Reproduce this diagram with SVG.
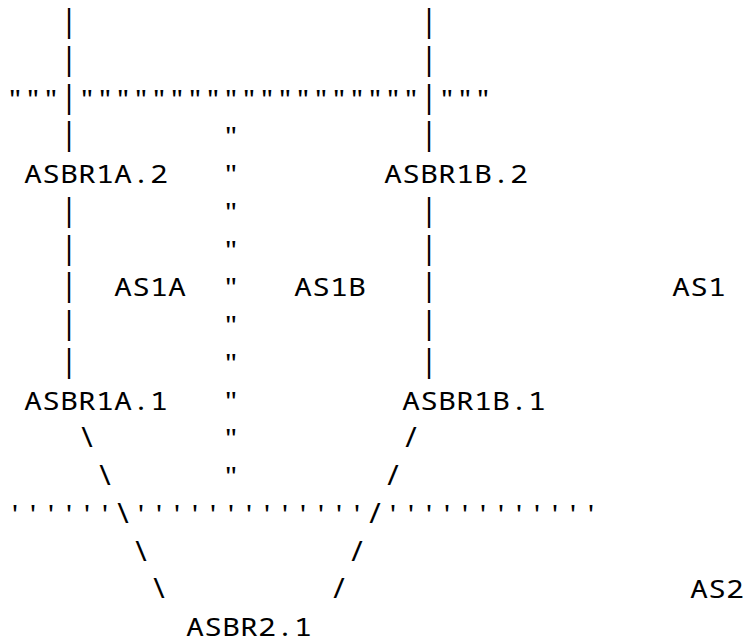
<svg xmlns="http://www.w3.org/2000/svg" width="745" height="643" viewBox="0 0 745 643">
<style>
text{font-family:"Noto Sans Mono","DejaVu Sans Mono","Liberation Mono",monospace;font-size:25px;fill:#000;white-space:pre}
text.p{font-size:30px}
text.s{font-size:27px}
</style>
<rect width="745" height="643" fill="#fff"/>
<g id="boundaries">
<text x="6" y="107.5" textLength="54" lengthAdjust="spacingAndGlyphs">"""</text>
<text x="78" y="107.5" textLength="342" lengthAdjust="spacingAndGlyphs">"""""""""""""""""""</text>
<text x="438" y="107.5" textLength="54" lengthAdjust="spacingAndGlyphs">"""</text>
<text x="222" y="145.25" textLength="18" lengthAdjust="spacingAndGlyphs">"</text>
<text x="222" y="183" textLength="18" lengthAdjust="spacingAndGlyphs">"</text>
<text x="222" y="220.75" textLength="18" lengthAdjust="spacingAndGlyphs">"</text>
<text x="222" y="258.5" textLength="18" lengthAdjust="spacingAndGlyphs">"</text>
<text x="222" y="296.25" textLength="18" lengthAdjust="spacingAndGlyphs">"</text>
<text x="222" y="334" textLength="18" lengthAdjust="spacingAndGlyphs">"</text>
<text x="222" y="371.75" textLength="18" lengthAdjust="spacingAndGlyphs">"</text>
<text x="222" y="409.5" textLength="18" lengthAdjust="spacingAndGlyphs">"</text>
<text x="222" y="447.25" textLength="18" lengthAdjust="spacingAndGlyphs">"</text>
<text x="222" y="485" textLength="18" lengthAdjust="spacingAndGlyphs">"</text>
<text x="6" y="522.75" textLength="108" lengthAdjust="spacingAndGlyphs">''''''</text>
<text x="132" y="522.75" textLength="234" lengthAdjust="spacingAndGlyphs">'''''''''''''</text>
<text x="384" y="522.75" textLength="216" lengthAdjust="spacingAndGlyphs">''''''''''''</text>
</g>
<g id="area-labels">
<text id="as1a" x="114" y="296.25" textLength="72" lengthAdjust="spacingAndGlyphs">AS1A</text>
<text id="as1b" x="294" y="296.25" textLength="72" lengthAdjust="spacingAndGlyphs">AS1B</text>
<text id="as1" x="672" y="296.25" textLength="54" lengthAdjust="spacingAndGlyphs">AS1</text>
<text id="as2" x="690" y="598.25" textLength="54" lengthAdjust="spacingAndGlyphs">AS2</text>
</g>
<g id="ASBR1A.2"><text x="24" y="183" textLength="144" lengthAdjust="spacingAndGlyphs">ASBR1A.2</text></g>
<g id="ASBR1B.2"><text x="384" y="183" textLength="144" lengthAdjust="spacingAndGlyphs">ASBR1B.2</text></g>
<g id="ASBR1A.1"><text x="24" y="409.5" textLength="144" lengthAdjust="spacingAndGlyphs">ASBR1A.1</text></g>
<g id="ASBR1B.1"><text x="402" y="409.5" textLength="144" lengthAdjust="spacingAndGlyphs">ASBR1B.1</text></g>
<g id="ASBR2.1"><text x="186" y="636" textLength="126" lengthAdjust="spacingAndGlyphs">ASBR2.1</text></g>
<g id="connectors">
<text class="p" x="60" y="32" textLength="18" lengthAdjust="spacingAndGlyphs">|</text>
<text class="p" x="60" y="69.75" textLength="18" lengthAdjust="spacingAndGlyphs">|</text>
<text class="p" x="60" y="107.5" textLength="18" lengthAdjust="spacingAndGlyphs">|</text>
<text class="p" x="60" y="145.25" textLength="18" lengthAdjust="spacingAndGlyphs">|</text>
<text class="p" x="60" y="220.75" textLength="18" lengthAdjust="spacingAndGlyphs">|</text>
<text class="p" x="60" y="258.5" textLength="18" lengthAdjust="spacingAndGlyphs">|</text>
<text class="p" x="60" y="296.25" textLength="18" lengthAdjust="spacingAndGlyphs">|</text>
<text class="p" x="60" y="334" textLength="18" lengthAdjust="spacingAndGlyphs">|</text>
<text class="p" x="60" y="371.75" textLength="18" lengthAdjust="spacingAndGlyphs">|</text>
<text class="p" x="420" y="32" textLength="18" lengthAdjust="spacingAndGlyphs">|</text>
<text class="p" x="420" y="69.75" textLength="18" lengthAdjust="spacingAndGlyphs">|</text>
<text class="p" x="420" y="107.5" textLength="18" lengthAdjust="spacingAndGlyphs">|</text>
<text class="p" x="420" y="145.25" textLength="18" lengthAdjust="spacingAndGlyphs">|</text>
<text class="p" x="420" y="220.75" textLength="18" lengthAdjust="spacingAndGlyphs">|</text>
<text class="p" x="420" y="258.5" textLength="18" lengthAdjust="spacingAndGlyphs">|</text>
<text class="p" x="420" y="296.25" textLength="18" lengthAdjust="spacingAndGlyphs">|</text>
<text class="p" x="420" y="334" textLength="18" lengthAdjust="spacingAndGlyphs">|</text>
<text class="p" x="420" y="371.75" textLength="18" lengthAdjust="spacingAndGlyphs">|</text>
<text class="s" x="78" y="447.25" textLength="18" lengthAdjust="spacingAndGlyphs">\</text>
<text class="s" x="96" y="485" textLength="18" lengthAdjust="spacingAndGlyphs">\</text>
<text class="s" x="114" y="522.75" textLength="18" lengthAdjust="spacingAndGlyphs">\</text>
<text class="s" x="132" y="560.5" textLength="18" lengthAdjust="spacingAndGlyphs">\</text>
<text class="s" x="150" y="598.25" textLength="18" lengthAdjust="spacingAndGlyphs">\</text>
<text class="s" x="402" y="447.25" textLength="18" lengthAdjust="spacingAndGlyphs">/</text>
<text class="s" x="384" y="485" textLength="18" lengthAdjust="spacingAndGlyphs">/</text>
<text class="s" x="366" y="522.75" textLength="18" lengthAdjust="spacingAndGlyphs">/</text>
<text class="s" x="348" y="560.5" textLength="18" lengthAdjust="spacingAndGlyphs">/</text>
<text class="s" x="330" y="598.25" textLength="18" lengthAdjust="spacingAndGlyphs">/</text>
</g>
</svg>
